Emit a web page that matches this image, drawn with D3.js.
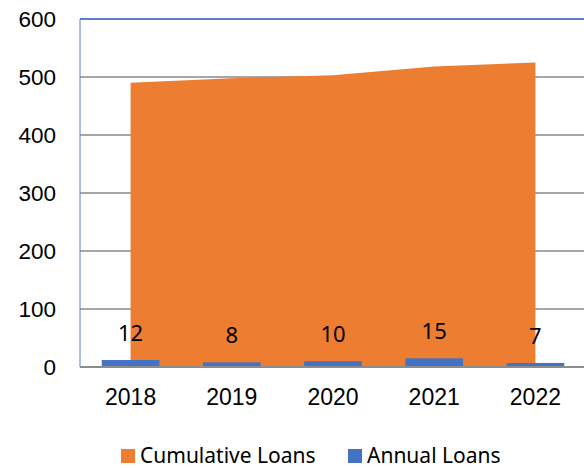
<!DOCTYPE html>
<html>
<head>
<meta charset="utf-8">
<script src="https://cdn.jsdelivr.net/npm/d3@7"></script>
<style>
    body { margin: 0; background: #fff; }
    svg { display: block; font-family: 'Noto Sans', 'Open Sans', sans-serif; }
</style>
</head>
<body>
<div id="chart"></div>
<script>
const years = ['2018', '2019', '2020', '2021', '2022']
const cumulativeLoans = [490, 498, 503, 518, 525]
const annualLoans = [12, 8, 10, 15, 7]
const yTicks = [0, 100, 200, 300, 400, 500, 600]
const seriesNames = ['Cumulative Loans', 'Annual Loans']

const colors = { cumulative: '#ED7D31', annual: '#4472C4' }

const width = 584
const height = 468
const plot = { left: 80, right: 586, top: 19, bottom: 367 }

const svg = d3.select('#chart').append('svg')
    .attr('width', width)
    .attr('height', height)

const x = d3.scaleBand()
    .domain(years)
    .range([plot.left, plot.right])

const y = d3.scaleLinear()
    .domain([0, 600])
    .range([plot.bottom, plot.top])

const center = d => x(d) + x.bandwidth() / 2

// gridlines
svg.append('g')
    .selectAll('line')
    .data(yTicks.filter(t => t > 0 && t < 600))
    .enter()
        .append('line')
            .attr('x1', plot.left)
            .attr('x2', width)
            .attr('y1', d => y(d))
            .attr('y2', d => y(d))
            .attr('stroke', '#a6a6a6')
            .attr('stroke-width', 2)

// top border of plot
svg.append('line')
    .attr('x1', plot.left)
    .attr('x2', width)
    .attr('y1', y(600))
    .attr('y2', y(600))
    .attr('stroke', '#5b7fc0')
    .attr('stroke-width', 2)

// cumulative area
const areaData = years.map((yr, i) => ({ year: yr, value: cumulativeLoans[i] }))
svg.append('path')
    .datum(areaData)
    .attr('fill', colors.cumulative)
    .attr('d', d3.area()
        .x(d => center(d.year))
        .y0(y(0))
        .y1(d => y(d.value)))

// annual bars
const barWidth = x.bandwidth() * 0.57
const annualData = years.map((yr, i) => ({ year: yr, value: annualLoans[i] }))
svg.append('g')
    .selectAll('rect')
    .data(annualData)
    .enter()
        .append('rect')
            .attr('x', d => center(d.year) - barWidth / 2)
            .attr('y', d => y(d.value))
            .attr('width', barWidth)
            .attr('height', d => y(0) - y(d.value))
            .attr('fill', colors.annual)

svg.append('g')
    .selectAll('text')
    .data(annualData)
    .enter()
        .append('text')
            .attr('x', d => center(d.year))
            .attr('y', d => y(d.value) - 27)
            .attr('dy', '0.35em')
            .attr('text-anchor', 'middle')
            .attr('font-size', 22)
            .attr('fill', '#000')
            .text(d => d.value)

// axes
svg.append('line')
    .attr('x1', plot.left)
    .attr('x2', plot.left)
    .attr('y1', plot.top)
    .attr('y2', plot.bottom)
    .attr('stroke', '#5b7fc0')
    .attr('stroke-width', 1)

svg.append('line')
    .attr('x1', plot.left)
    .attr('x2', width)
    .attr('y1', plot.bottom)
    .attr('y2', plot.bottom)
    .attr('stroke', '#8c8c8c')
    .attr('stroke-width', 2)

const yAxis = svg.append('g')
    .attr('transform', `translate(${plot.left}, 0)`)
    .call(d3.axisLeft(y).tickValues(yTicks).tickSize(0).tickPadding(24))
yAxis.select('.domain').remove()
yAxis.selectAll('text')
    .attr('font-size', 22.5)
    .attr('font-family', null)
    .attr('fill', '#000')

const xAxis = svg.append('g')
    .attr('transform', `translate(0, ${plot.bottom})`)
    .call(d3.axisBottom(x).tickSize(0).tickPadding(22))
xAxis.select('.domain').remove()
xAxis.selectAll('text')
    .attr('font-size', 23)
    .attr('font-family', null)
    .attr('fill', '#000')

// legend
const legendItems = [
    { name: seriesNames[0], color: colors.cumulative, x: 121 },
    { name: seriesNames[1], color: colors.annual, x: 348 },
]
const legend = svg.append('g')
    .selectAll('g')
    .data(legendItems)
    .enter()
        .append('g')
            .attr('transform', d => `translate(${d.x}, 449)`)
legend.append('rect')
    .attr('width', 14)
    .attr('height', 14)
    .attr('fill', d => d.color)
legend.append('text')
    .attr('x', 19)
    .attr('y', 7)
    .attr('dy', '0.35em')
    .attr('font-size', 21)
    .attr('fill', '#000')
    .text(d => d.name)
</script>
</body>
</html>
